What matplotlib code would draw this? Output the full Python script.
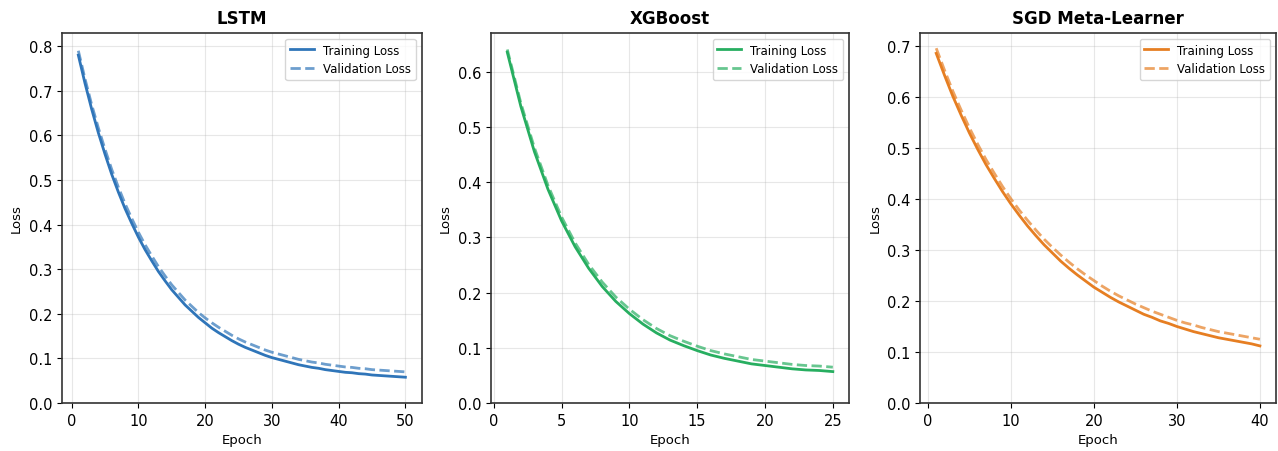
import matplotlib
matplotlib.use("Agg")
import matplotlib.pyplot as plt

# values, one per epoch
lstm_train = [0.780, 0.717, 0.659, 0.606, 0.558, 0.513, 0.473, 0.436, 0.403, 0.372,
              0.344, 0.319, 0.295, 0.274, 0.254, 0.237, 0.220, 0.206, 0.192, 0.180,
              0.168, 0.158, 0.149, 0.140, 0.132, 0.125, 0.119, 0.113, 0.107, 0.102,
              0.098, 0.094, 0.090, 0.086, 0.083, 0.080, 0.078, 0.075, 0.073, 0.071,
              0.069, 0.068, 0.066, 0.065, 0.063, 0.062, 0.061, 0.060, 0.059, 0.058]
lstm_val = [0.790, 0.727, 0.669, 0.617, 0.569, 0.524, 0.484, 0.447, 0.414, 0.383,
            0.355, 0.330, 0.306, 0.285, 0.265, 0.248, 0.231, 0.217, 0.203, 0.191,
            0.180, 0.170, 0.161, 0.152, 0.144, 0.137, 0.131, 0.125, 0.119, 0.114,
            0.110, 0.106, 0.102, 0.098, 0.095, 0.092, 0.090, 0.087, 0.085, 0.083,
            0.081, 0.080, 0.078, 0.077, 0.075, 0.074, 0.073, 0.072, 0.071, 0.070]

xgb_train = [0.635, 0.537, 0.455, 0.387, 0.330, 0.283, 0.244, 0.211, 0.184, 0.162,
             0.143, 0.127, 0.114, 0.104, 0.095, 0.087, 0.081, 0.076, 0.071, 0.068,
             0.065, 0.062, 0.060, 0.059, 0.057]
xgb_val = [0.640, 0.543, 0.462, 0.394, 0.337, 0.290, 0.251, 0.219, 0.192, 0.170,
           0.151, 0.135, 0.122, 0.112, 0.103, 0.095, 0.089, 0.084, 0.079, 0.076,
           0.073, 0.070, 0.068, 0.067, 0.065]

sgd_train = [0.685, 0.642, 0.601, 0.564, 0.529, 0.497, 0.467, 0.440, 0.414, 0.390,
             0.368, 0.347, 0.328, 0.310, 0.294, 0.278, 0.264, 0.251, 0.239, 0.227,
             0.217, 0.207, 0.198, 0.190, 0.182, 0.174, 0.168, 0.161, 0.156, 0.150,
             0.145, 0.140, 0.136, 0.132, 0.128, 0.125, 0.122, 0.119, 0.116, 0.112]
sgd_val = [0.695, 0.652, 0.611, 0.574, 0.539, 0.507, 0.477, 0.450, 0.424, 0.400,
           0.378, 0.358, 0.339, 0.321, 0.305, 0.290, 0.276, 0.263, 0.251, 0.240,
           0.229, 0.219, 0.210, 0.202, 0.194, 0.187, 0.180, 0.174, 0.168, 0.162,
           0.157, 0.153, 0.148, 0.144, 0.140, 0.137, 0.134, 0.131, 0.128, 0.125]

titles = ["LSTM", "XGBoost", "SGD Meta-Learner"]
colors = ["#2f75b9", "#27ae60", "#e67e22"]
xticks = [[0, 10, 20, 30, 40, 50], [0, 5, 10, 15, 20, 25], [0, 10, 20, 30, 40]]
ylims = [0.83, 0.67, 0.725]

positions = [[0.0485, 0.106, 0.2815, 0.819],
             [0.3842, 0.106, 0.2802, 0.819],
             [0.7199, 0.106, 0.2786, 0.819]]

fig = plt.figure(figsize=(12.78, 4.52), dpi=100)

series = [(lstm_train, lstm_val), (xgb_train, xgb_val), (sgd_train, sgd_val)]
for i, (train, val) in enumerate(series):
    ax = fig.add_axes(positions[i])
    epochs = list(range(1, len(train) + 1))
    ax.plot(epochs, train, color=colors[i], linewidth=2, label="Training Loss")
    ax.plot(epochs, val, color=colors[i], linewidth=2, linestyle="--", alpha=0.7,
            label="Validation Loss")
    ax.set_title(titles[i], fontsize=12, fontweight="bold", pad=7)
    ax.set_xlabel("Epoch", fontsize=9.5)
    ax.set_ylabel("Loss", fontsize=9.5)
    ax.set_xticks(xticks[i])
    ax.set_ylim(0, ylims[i])
    ax.tick_params(labelsize=10.5)
    ax.grid(True, alpha=0.3)
    for s in ax.spines.values():
        s.set_color("#333333")
        s.set_linewidth(1.2)
    ax.legend(loc="upper right", fontsize=8.5)

fig.savefig("out.png", dpi=100)
